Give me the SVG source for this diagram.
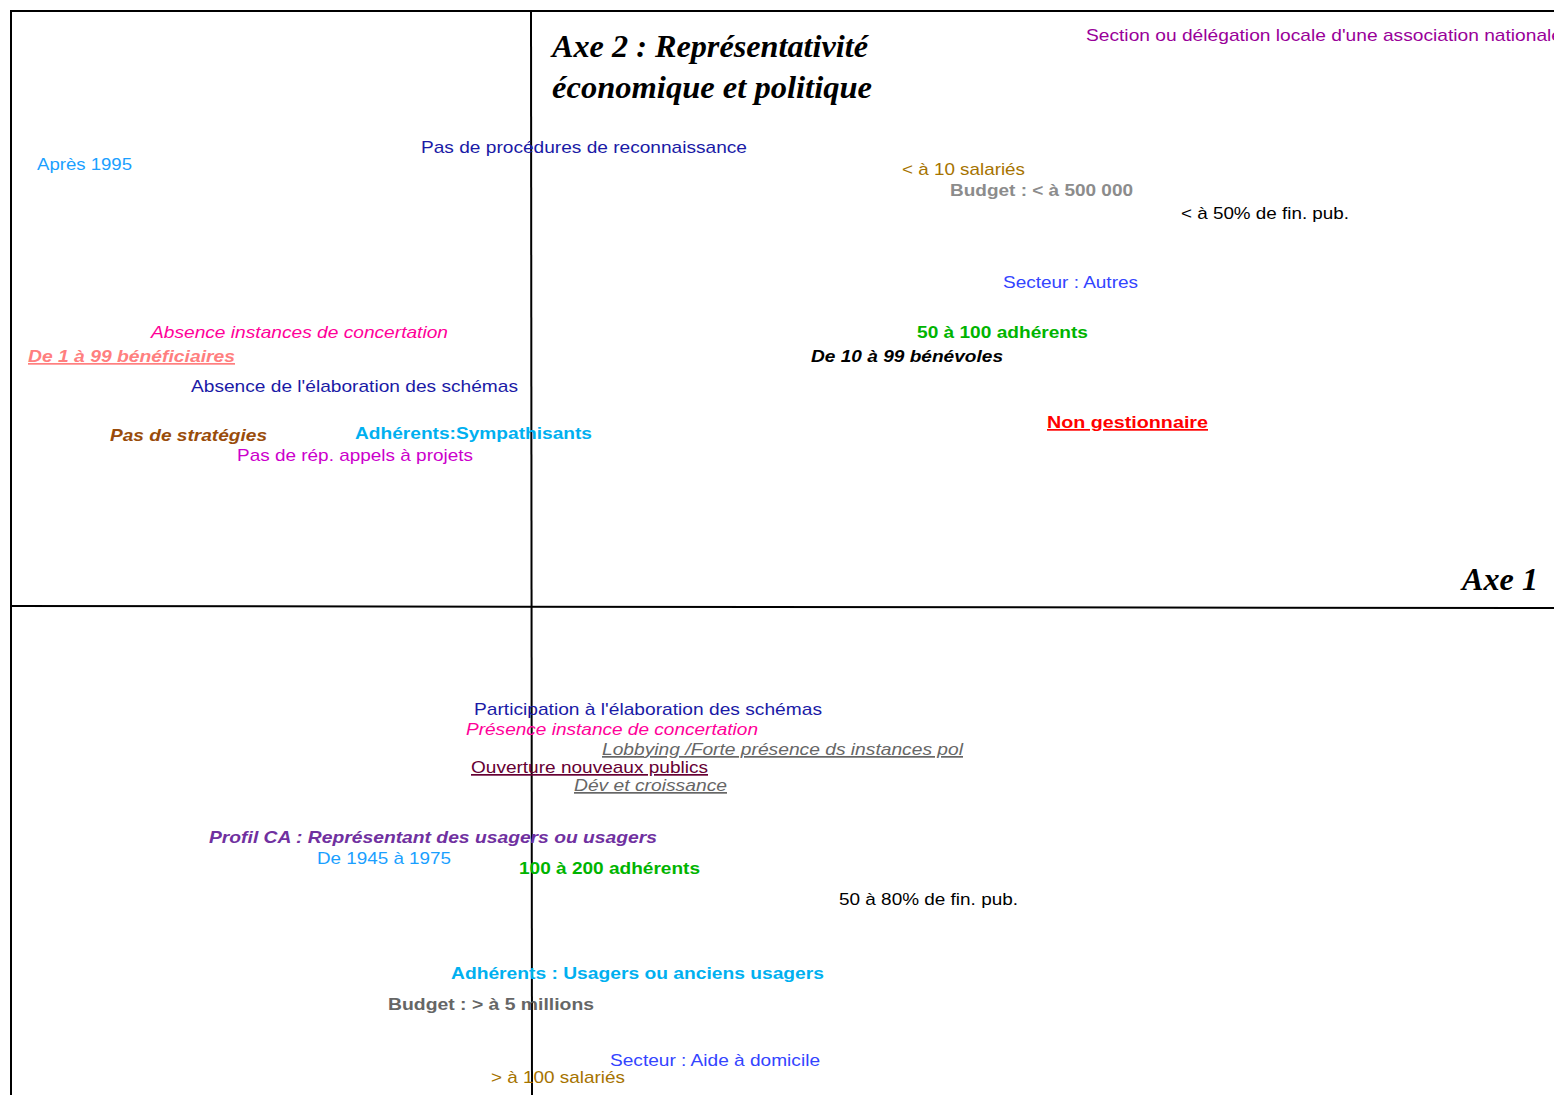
<svg xmlns="http://www.w3.org/2000/svg" width="1554" height="1095" viewBox="0 0 1554 1095">
<style>
text{font-family:"Liberation Sans",Arial,sans-serif;font-size:17px}
.b{font-weight:bold}
.i{font-style:italic}
.u{text-decoration:underline}
.t{font-family:"Liberation Serif","Times New Roman",serif;font-weight:bold;font-style:italic;font-size:31px;fill:#000}
.ax{stroke:#000;stroke-width:2;fill:none}
</style>
<rect width="1554" height="1095" fill="#fff"/>
<g id="axes">
<path class="ax" d="M11,1095 V11 H1554"/>
<path class="ax" d="M531,11 L532,1095"/>
<path class="ax" d="M11,606 L1554,608"/>
</g>
<g id="titles">
<text class="t" x="552" y="57" textLength="316" lengthAdjust="spacingAndGlyphs">Axe 2 : Représentativité</text>
<text class="t" x="552" y="98" textLength="320" lengthAdjust="spacingAndGlyphs">économique et politique</text>
<text class="t" x="1462" y="590" textLength="76" lengthAdjust="spacingAndGlyphs">Axe 1</text>
</g>
<g id="labels">
<text x="1086" y="41" fill="#990099" textLength="476" lengthAdjust="spacingAndGlyphs">Section ou délégation locale d'une association nationale</text>
<text x="421" y="153" fill="#1a1aa6" textLength="326" lengthAdjust="spacingAndGlyphs">Pas de procédures de reconnaissance</text>
<text x="37" y="170" fill="#1a9fff" textLength="95" lengthAdjust="spacingAndGlyphs">Après 1995</text>
<text x="902" y="175" fill="#a67300" textLength="123" lengthAdjust="spacingAndGlyphs">&lt; à 10 salariés</text>
<text x="950" y="196" class="b" fill="#8c8c8c" textLength="183" lengthAdjust="spacingAndGlyphs">Budget : &lt; à 500  000</text>
<text x="1181" y="219" fill="#000" textLength="168" lengthAdjust="spacingAndGlyphs">&lt; à 50% de fin. pub.</text>
<text x="1003" y="288" fill="#3344ff" textLength="135" lengthAdjust="spacingAndGlyphs">Secteur : Autres</text>
<text x="151" y="338" class="i" fill="#ff0099" textLength="297" lengthAdjust="spacingAndGlyphs">Absence instances de concertation</text>
<text x="917" y="338" class="b" fill="#00b400" textLength="171" lengthAdjust="spacingAndGlyphs">50 à 100 adhérents</text>
<text x="28" y="362" class="b i u" fill="#ff7f7f" textLength="207" lengthAdjust="spacingAndGlyphs">De 1 à 99 bénéficiaires</text>
<text x="811" y="362" class="b i" fill="#000" textLength="192" lengthAdjust="spacingAndGlyphs">De 10 à 99 bénévoles</text>
<text x="191" y="392" fill="#1a1aa6" textLength="327" lengthAdjust="spacingAndGlyphs">Absence de l'élaboration des schémas</text>
<text x="1047" y="428" class="b u" fill="#ff0000" textLength="161" lengthAdjust="spacingAndGlyphs">Non gestionnaire</text>
<text x="355" y="439" class="b" fill="#00b0f0" textLength="237" lengthAdjust="spacingAndGlyphs">Adhérents:Sympathisants</text>
<text x="110" y="441" class="b i" fill="#994c0a" textLength="157" lengthAdjust="spacingAndGlyphs">Pas de stratégies</text>
<text x="237" y="461" fill="#cc00cc" textLength="236" lengthAdjust="spacingAndGlyphs">Pas de rép. appels à projets</text>
<text x="474" y="715" fill="#1a1aa6" textLength="348" lengthAdjust="spacingAndGlyphs">Participation à l'élaboration des schémas</text>
<text x="466" y="735" class="i" fill="#ff0099" textLength="292" lengthAdjust="spacingAndGlyphs">Présence instance de concertation</text>
<text x="602" y="755" class="i u" fill="#666666" textLength="361" lengthAdjust="spacingAndGlyphs">Lobbying /Forte présence ds instances pol</text>
<text x="471" y="773" class="u" fill="#660033" textLength="237" lengthAdjust="spacingAndGlyphs">Ouverture nouveaux publics</text>
<text x="574" y="791" class="i u" fill="#666666" textLength="153" lengthAdjust="spacingAndGlyphs">Dév et croissance</text>
<text x="209" y="843" class="b i" fill="#7030a0" textLength="448" lengthAdjust="spacingAndGlyphs">Profil CA : Représentant des usagers ou usagers</text>
<text x="317" y="864" fill="#1a9fff" textLength="134" lengthAdjust="spacingAndGlyphs">De 1945 à 1975</text>
<text x="519" y="874" class="b" fill="#00b400" textLength="181" lengthAdjust="spacingAndGlyphs">100 à 200 adhérents</text>
<text x="839" y="905" fill="#000" textLength="179" lengthAdjust="spacingAndGlyphs">50 à 80% de fin. pub.</text>
<text x="451" y="979" class="b" fill="#00b0f0" textLength="373" lengthAdjust="spacingAndGlyphs">Adhérents : Usagers ou anciens usagers</text>
<text x="388" y="1010" class="b" fill="#666666" textLength="206" lengthAdjust="spacingAndGlyphs">Budget : &gt; à 5 millions</text>
<text x="610" y="1066" fill="#3344ff" textLength="210" lengthAdjust="spacingAndGlyphs">Secteur : Aide à domicile</text>
<text x="491" y="1083" fill="#a67300" textLength="134" lengthAdjust="spacingAndGlyphs">&gt; à 100 salariés</text>
</g>
</svg>
